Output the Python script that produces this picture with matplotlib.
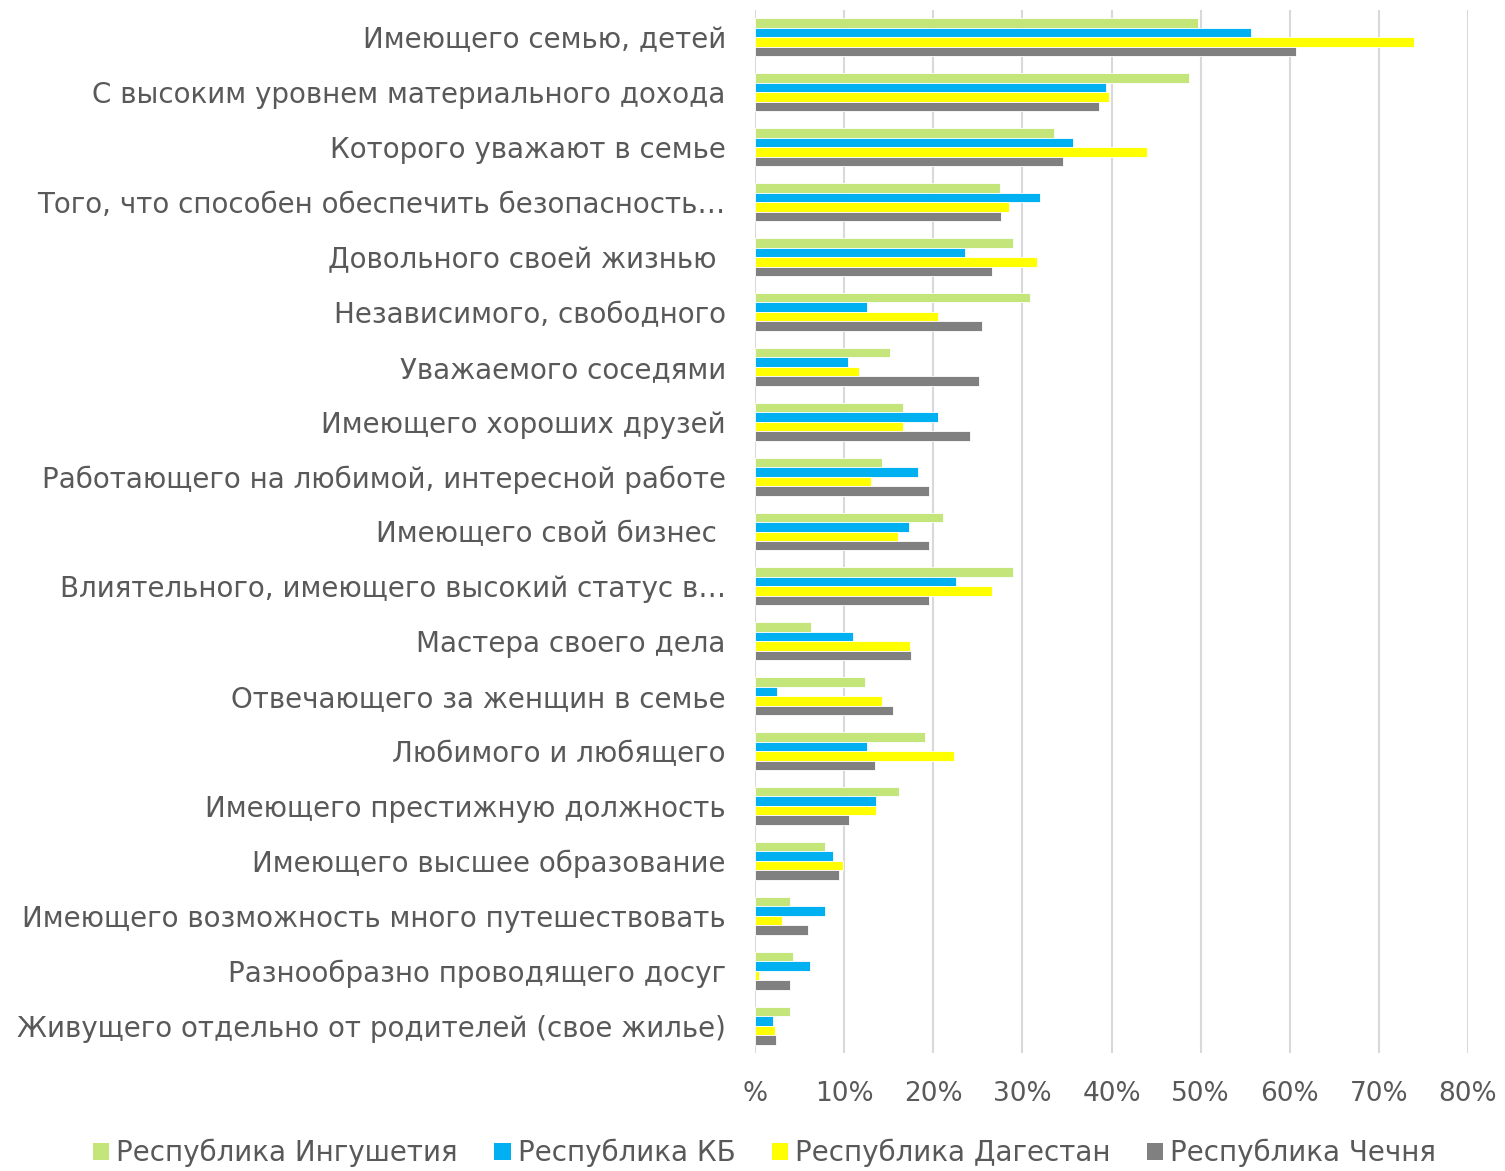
import matplotlib
matplotlib.use("Agg")
import matplotlib.pyplot as plt
import numpy as np
from matplotlib.patches import Patch

categories = [
    "Имеющего семью, детей",
    "С высоким уровнем материального дохода",
    "Которого уважают в семье",
    "Того, что способен обеспечить безопасность…",
    "Довольного своей жизнью ",
    "Независимого, свободного",
    "Уважаемого соседями",
    "Имеющего хороших друзей",
    "Работающего на любимой, интересной работе",
    "Имеющего свой бизнес ",
    "Влиятельного, имеющего высокий статус в…",
    "Мастера своего дела",
    "Отвечающего за женщин в семье",
    "Любимого и любящего",
    "Имеющего престижную должность",
    "Имеющего высшее образование",
    "Имеющего возможность много путешествовать",
    "Разнообразно проводящего досуг",
    "Живущего отдельно от родителей (свое жилье)",
]

series_names = ["Республика Ингушетия", "Республика КБ", "Республика Дагестан", "Республика Чечня"]

ingushetia = [49.7, 48.7, 33.5, 27.5, 29.0, 30.9, 15.2, 16.6, 14.2, 21.1, 29.0, 6.3, 12.3, 19.1, 16.2, 7.8, 3.9, 4.3, 3.9]
kb         = [55.7, 39.4, 35.7, 32.0, 23.6, 12.6, 10.4, 20.5, 18.3, 17.3, 22.6, 11.0, 2.5, 12.6, 13.6, 8.8, 7.8, 6.2, 2.0]
dagestan   = [73.9, 39.7, 44.0, 28.5, 31.6, 20.5, 11.7, 16.6, 13.0, 16.1, 26.6, 17.4, 14.2, 22.3, 13.6, 9.9, 3.0, 0.5, 2.3]
chechnya   = [60.7, 38.6, 34.6, 27.6, 26.6, 25.5, 25.1, 24.1, 19.5, 19.5, 19.5, 17.5, 15.5, 13.5, 10.5, 9.4, 5.9, 3.9, 2.4]

x_ticks = [0, 10, 20, 30, 40, 50, 60, 70, 80]
x_tick_labels = ["%", "10%", "20%", "30%", "40%", "50%", "60%", "70%", "80%"]

colors = ["#C3E57A", "#00B0F0", "#FFFF00", "#808080"]
text_color = "#595959"
font = "DejaVu Sans"

fig = plt.figure(figsize=(15.05, 11.71), dpi=100)
ax = fig.add_axes([755/1505, 1 - 1053/1171, (1468-755)/1505, (1053-10)/1171])

data = [ingushetia, kb, dagestan, chechnya]
n = len(categories)
y = np.arange(n)
bh = 0.173
for i, (vals, c) in enumerate(zip(data, colors)):
    offs = (i - 1.5) * bh
    ax.barh(y + offs, vals, height=bh, color=c, edgecolor="white", linewidth=0.6, zorder=3)

ax.set_ylim(n - 0.5, -0.5)
ax.set_xlim(0, 80)
ax.set_xticks(x_ticks)
ax.set_xticklabels(x_tick_labels, fontsize=19, color=text_color, family=font)
ax.set_yticks(y)
ax.set_yticklabels(categories, fontsize=20, color=text_color, family=font)
ax.tick_params(axis="y", length=0, pad=21)
ax.tick_params(axis="x", length=0, pad=20)
ax.grid(axis="x", color="#D9D9D9", linewidth=1.5, zorder=0)
for s in ax.spines.values():
    s.set_visible(False)

handles = [Patch(facecolor=c, edgecolor="none") for c in colors]
fig.legend(handles, series_names, loc="center", bbox_to_anchor=(0.508, 1 - 1153/1171), ncol=4,
           frameon=False, prop={"family": font, "size": 20}, labelcolor=text_color,
           handlelength=0.6, handleheight=0.6, handletextpad=0.25, columnspacing=1.3)

fig.savefig("out.png", dpi=100)
